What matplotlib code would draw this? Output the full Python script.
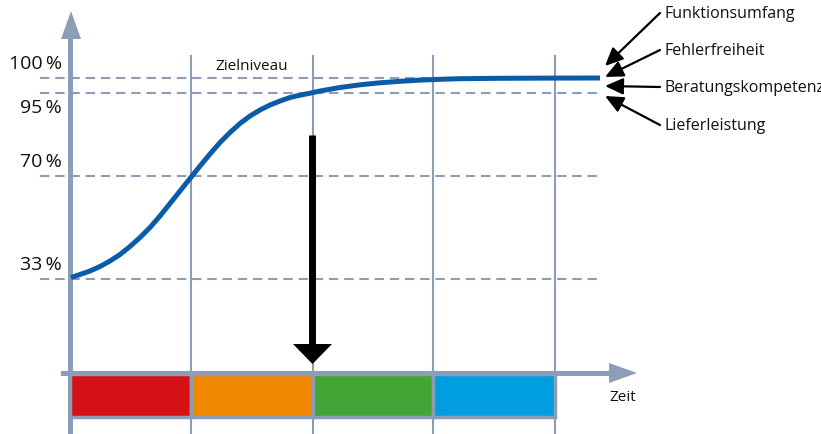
import numpy as np
import matplotlib.pyplot as plt
from matplotlib.patches import Polygon

plt.rcParams['font.family'] = ['Open Sans', 'DejaVu Sans']

# Daten (Diagramm-Koordinaten in Pixeln, y nach unten)
stufen = ['100\u2009%', '95\u2009%', '70\u2009%', '33\u2009%']
stufen_y = [79, 94, 177, 280]
stufen_text_y = [64, 108, 162, 265]

# Kurve
kurve_x = [71, 80, 90, 100, 110, 120, 130, 140, 150, 160, 170, 180, 190, 200, 210, 220,
           230, 240, 250, 260, 270, 280, 290, 300, 310, 320, 340, 360, 380, 400, 420,
           440, 460, 500, 550, 600]
kurve_y = [278.5, 275.5, 272, 267.5, 262, 255.5, 247.5, 238.5, 228.5, 217, 204.5, 192, 179.5,
           167, 155, 143.5, 133.5, 124.5, 117, 111, 106, 102, 98.5, 96.2, 94.2, 92, 88.5,
           85.8, 83.8, 82.3, 81.1, 80.3, 79.7, 79.3, 79.1, 79]

phasen_grenzen = [70, 191, 313, 433, 555]
phasen_farben = ['#d51317', '#ef8800', '#42a535', '#009ee0']

faktoren = ['Funktionsumfang', 'Fehlerfreiheit', 'Beratungskompetenz', 'Lieferleistung']
faktoren_y = [14, 51, 88, 126]
pfeil_ziel_y = [67, 78, 87, 97]

grau = '#8c9db7'
blau = '#0a5ca8'

fig = plt.figure(figsize=(8.21, 4.35), dpi=100)
ax = fig.add_axes([0, 0, 1, 1])
ax.set_xlim(0, 821)
ax.set_ylim(435, 0)
ax.axis('off')

# senkrechte Gitterlinien
for gx in phasen_grenzen[1:]:
    ax.plot([gx, gx], [57, 435], color=grau, lw=1.5, zorder=1)

# gestrichelte Niveaulinien
for sy in stufen_y:
    ax.plot([40, 600], [sy, sy], color=grau, lw=1.5, dashes=(4.5, 2.8), zorder=1)

# y-Achse mit Pfeil
ax.plot([70, 70], [40, 435], color=grau, lw=3.6, zorder=2)
ax.add_patch(Polygon([[61, 40], [81, 40], [71, 12]], closed=True, color=grau, lw=0, zorder=2))

# Zeitachse mit Pfeil
ax.plot([63, 610], [374, 374], color=grau, lw=3.6, zorder=2)
ax.add_patch(Polygon([[609, 364], [609, 384], [637, 374]], closed=True, color=grau, lw=0, zorder=2))

# Phasenbalken
links = phasen_grenzen[:-1]
breiten = np.diff(phasen_grenzen)
ax.bar(links, 43, width=breiten, bottom=375, align='edge', color=phasen_farben,
       edgecolor=grau, linewidth=2.5, zorder=3)

# Kurve
ax.plot(kurve_x, kurve_y, color=blau, lw=3.6, solid_capstyle='butt',
        solid_joinstyle='round', zorder=4)

# schwarzer Pfeil
ax.plot([312, 312], [136, 346], color='black', lw=5, solid_capstyle='butt', zorder=5)
ax.add_patch(Polygon([[293, 345], [332, 345], [312.5, 365]], closed=True, color='black', lw=0, zorder=5))

# Beschriftungen
for txt, ty in zip(stufen, stufen_text_y):
    ax.text(62, ty, txt, ha='right', va='center', fontsize=14, color='#111111')
ax.text(252, 66, 'Zielniveau', ha='center', va='center', fontsize=11, color='#111111')
ax.text(623, 398, 'Zeit', ha='center', va='center', fontsize=11, color='#111111')

for txt, ty, zy in zip(faktoren, faktoren_y, pfeil_ziel_y):
    ax.text(664, ty, txt, ha='left', va='center', fontsize=11.5, color='#111111')
    ax.annotate('', xy=(605, zy), xytext=(660, ty),
                arrowprops=dict(arrowstyle='-|>,head_length=1.1,head_width=0.5',
                                color='black', lw=1.6, shrinkA=0, shrinkB=0))

fig.savefig('out.png', dpi=100)
